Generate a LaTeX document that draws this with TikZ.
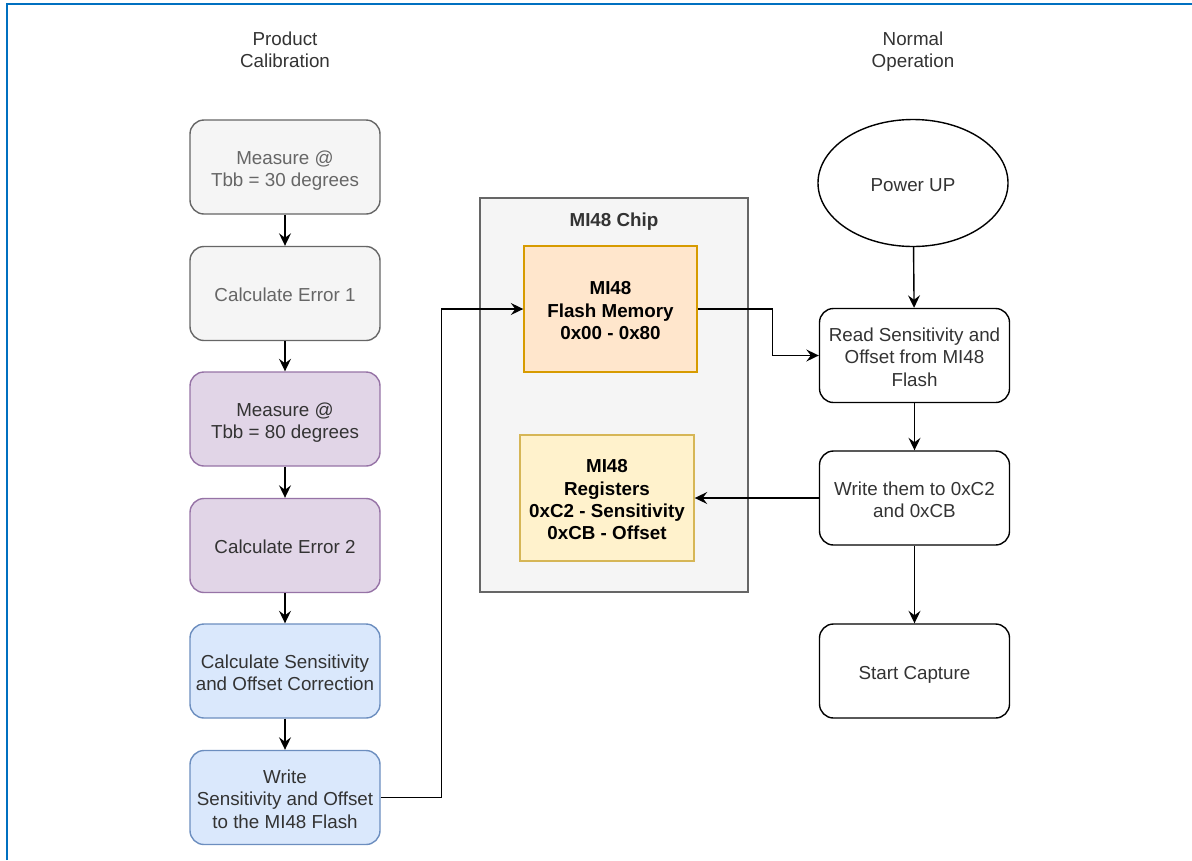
\documentclass[tikz,border=0pt]{standalone}
\usepackage{fontspec}
\setmainfont{Liberation Sans}
\usetikzlibrary{arrows.meta,shapes.geometric}
\definecolor{framblue}{RGB}{0,112,192}
\definecolor{grayfill}{HTML}{F5F5F5}
\definecolor{grayline}{HTML}{666666}
\definecolor{purfill}{HTML}{E1D5E7}
\definecolor{purline}{HTML}{9673A6}
\definecolor{bluefill}{HTML}{DAE8FC}
\definecolor{blueline}{HTML}{6C8EBF}
\definecolor{orfill}{HTML}{FFE6CC}
\definecolor{orline}{HTML}{D79B00}
\definecolor{yelfill}{HTML}{FFF2CC}
\definecolor{yelline}{HTML}{D6B656}
\definecolor{darktext}{HTML}{333333}
% struts round a label, so every line sits as in the drawing
\newcommand{\lns}[1]{\rule{0pt}{21pt}#1\rule[-4.6pt]{0pt}{4.6pt}}
\tikzset{
  txt/.style = {font=\fontsize{18.8}{22.4}\selectfont, align=center},
  stepbox/.style = {txt, draw, rounded corners=14pt, line width=1.4pt,
    minimum width=190pt, minimum height=94pt, inner sep=0pt},
  graybox/.style = {stepbox, fill=grayfill, draw=grayline, text=grayline},
  purbox/.style  = {stepbox, fill=purfill, draw=purline, text=darktext},
  bluebox/.style = {stepbox, fill=bluefill, draw=blueline, text=darktext},
  plainbox/.style = {stepbox, fill=white, draw=black, text=darktext},
  membox/.style = {txt, font=\fontsize{18.8}{22.4}\selectfont\bfseries,
    line width=1.4pt, inner sep=0pt, minimum height=126pt},
  arr/.style = {line width=1.4pt, -{Stealth[length=12.5pt,width=12pt,inset=4.5pt]}}
}
\begin{document}
\begin{tikzpicture}[x=1pt,y=-1pt]
  \useasboundingbox (0,0) rectangle (1192,860);
  \draw[framblue, line width=2pt] (7,860) -- (7,4) -- (1192,4);

  \node[txt, text=darktext] (ttlcal) at (285,48.5) {\lns{Product\\Calibration}};
  \node[txt, text=darktext] (ttlop) at (913,48.5) {\lns{Normal\\Operation}};

  % calibration column
  \node[graybox] (m30)  at (285,167) {\lns{Measure @\\Tbb = 30 degrees}};
  \node[graybox] (err1) at (285,293.5) {\lns{Calculate Error 1}};
  \node[purbox]  (m80)  at (285,419) {\lns{Measure @\\Tbb = 80 degrees}};
  \node[purbox]  (err2) at (285,545.5) {\lns{Calculate Error 2}};
  \node[bluebox] (corr) at (285,671) {\lns{Calculate Sensitivity\\and Offset Correction}};
  \node[bluebox] (wflash) at (285,797.5) {\lns{Write\\Sensitivity and Offset\\to the MI48 Flash}};

  \foreach \a/\b in {m30/err1, err1/m80, m80/err2, err2/corr, corr/wflash}{
    \draw[arr] (\a) -- (\b);
  }

  % chip
  \node[draw=grayline, fill=grayfill, line width=1.4pt, minimum width=268pt,
    minimum height=394pt, inner sep=0pt] (chip) at (614,395) {};
  \node[txt, font=\fontsize{18.8}{22.4}\selectfont\bfseries, text=darktext]
    (chiplbl) at (614,218.5) {\lns{MI48 Chip}};
  \node[membox, draw=orline, fill=orfill, minimum width=173pt] (flash) at (610.5,309)
    {\lns{MI48\\Flash Memory\\0x00 - 0x80}};
  \node[membox, draw=yelline, fill=yelfill, minimum width=174pt] (regs) at (607,498)
    {\lns{MI48\\Registers\\0xC2 - Sensitivity\\0xCB - Offset}};

  % operation column
  \node[ellipse, draw, line width=1.4pt, txt, text=darktext, minimum width=190pt,
    minimum height=127pt, inner sep=0pt] (pwr) at (913,183) {\lns{Power UP}};
  \node[plainbox] (rdflash) at (914.5,355.5) {\lns{Read Sensitivity and\\Offset from MI48\\Flash}};
  \node[plainbox] (wregs) at (914.5,498) {\lns{Write them to 0xC2\\and 0xCB}};
  \node[plainbox] (cap) at (914.5,671) {\lns{Start Capture}};

  \draw[arr] (pwr) -- (rdflash);
  \draw[arr] (rdflash) -- (wregs);
  \draw[arr] (wregs) -- (cap);
  \draw[arr] (wregs.west) -- (regs.east);
  \draw[arr] (wflash.east) -- ++(61,0) |- (flash.west);
  \draw[arr] (flash.east) -- ++(75,0) |- (rdflash.west);
\end{tikzpicture}
\end{document}
